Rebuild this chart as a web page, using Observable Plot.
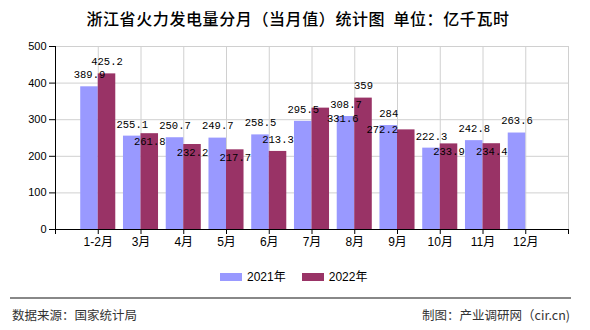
<!DOCTYPE html>
<html><head><meta charset="utf-8">
<script src="https://cdn.jsdelivr.net/npm/d3@7"></script>
<script src="https://cdn.jsdelivr.net/npm/@observablehq/plot@0.6"></script>
<style>
body{margin:0;width:590px;height:330px;position:relative;background:#fff;overflow:hidden;font-family:"Liberation Sans","Noto Sans CJK SC",sans-serif;color:#000}
#title{position:absolute;top:7px;left:3px;width:590px;text-align:center;font-size:16px;line-height:22px;font-family:"Noto Sans CJK SC",sans-serif;font-weight:500;word-spacing:4px;letter-spacing:0.6px}
#chart{position:absolute;top:36px;left:0}
#legend{position:absolute;top:269px;left:220px;font-size:12px;line-height:16px;display:flex;align-items:center}
#legend .sw{width:22px;height:8px;display:inline-block;margin-right:5px}
#legend .it{display:flex;align-items:center;margin-right:16px}
#sep{position:absolute;top:297px;left:10px;width:561px;border-top:2px solid #888}
#src{position:absolute;left:12px;top:306px;font-size:12.5px;color:#333;font-family:"Noto Sans CJK SC",sans-serif;line-height:18px}
#by{position:absolute;right:20px;top:306px;font-size:12.5px;color:#333;font-family:"Noto Sans CJK SC",sans-serif;line-height:18px}
</style></head>
<body>
<div id="title">浙江省火力发电量分月（当月值）统计图 单位：亿千瓦时</div>
<div id="chart"></div>
<div id="legend"></div>
<div id="sep"></div>
<div id="src">数据来源：国家统计局</div>
<div id="by">制图：产业调研网（cir.cn)</div>
<script>
const months = ["1-2月","3月","4月","5月","6月","7月","8月","9月","10月","11月","12月"];
const v2021 = [389.9,255.1,250.7,249.7,258.5,295.5,308.7,284,222.3,242.8,263.6];
const v2022 = [425.2,261.8,232.2,217.7,213.3,331.6,359,272.2,233.9,234.4,null];
const seriesNames = ["2021年","2022年"];
const seriesColors = ["#9999ff","#993366"];
const yTicks = [0,100,200,300,400,500];

const rows = months.map((m,i)=>({m, pos:i+1, a:v2021[i], b:v2022[i]}));
const rowsB = rows.filter(d=>d.b!=null);
const W = 0.41;
const lblFont = "Liberation Mono, DejaVu Sans Mono, monospace";

// layout of the plot (same numbers passed to Plot below)
const width = 590, height = 226, mL = 55, mR = 22, mT = 10, mB = 33;
const xDomain = [0,12], yDomain = [0,500];
const px = d3.scaleLinear(xDomain, [mL, width - mR]);
const py = d3.scaleLinear(yDomain, [height - mB, mT]);

// simple greedy label placement: 2021 labels above bars, 2022 labels try above/below/left/right
const charW = 6.3, boxH = 12, pad = 2;
const placed = rows.map(d => ({x: px(d.pos - W/2), y: py(d.a) - 12, w: String(d.a).length*charW + pad}));
const candidates = [[0,-12],[0,8],[-24,0],[22,10]];
const overlaps = (a,b) => Math.abs(a.x-b.x) < (a.w+b.w)/2 && Math.abs(a.y-b.y) < boxH;
rowsB.forEach(d => {
  const cx = px(d.pos + W/2), cy = py(d.b), w = String(d.b).length*charW + pad;
  let k = 0;
  for (; k < candidates.length; k++) {
    const box = {x: cx + candidates[k][0], y: cy + candidates[k][1], w};
    if (!placed.some(p => overlaps(p, box))) break;
  }
  if (k === candidates.length) k = 0;
  d.cand = k;
  placed.push({x: cx + candidates[k][0], y: cy + candidates[k][1], w});
});

const labelMarks = candidates.map((c,k) =>
  Plot.text(rowsB.filter(d=>d.cand===k), {x:d=>d.pos+W/2, y:"b", text:d=>String(d.b), dx:c[0], dy:c[1],
    fontSize:10.5, fontFamily:lblFont, fill:"#000"}));

const chart = Plot.plot({
  width, height, marginLeft:mL, marginRight:mR, marginTop:mT, marginBottom:mB,
  x:{type:"linear", domain:xDomain},
  y:{domain:yDomain},
  style:{fontFamily:"Liberation Sans, Noto Sans CJK SC, sans-serif", fontSize:"11px", color:"#000", background:"white"},
  marks:[
    Plot.gridY(yTicks.slice(1), {stroke:"#d0d0d0", strokeOpacity:1}),
    Plot.gridX(d3.range(1,13), {stroke:"#d0d0d0", strokeOpacity:1}),
    Plot.rect(rows, {x1:d=>d.pos-W, x2:d=>d.pos, y1:0, y2:"a", fill:seriesColors[0]}),
    Plot.rect(rowsB, {x1:d=>d.pos, x2:d=>d.pos+W, y1:0, y2:"b", fill:seriesColors[1]}),
    Plot.axisY(yTicks, {tickSize:6, tickPadding:3, fontSize:11, label:null, stroke:"#000"}),
    Plot.axisX(d3.range(0,13), {tickSize:5, tickPadding:3, fontSize:12, label:null, stroke:"#000",
      tickFormat: i => months[i-1] ?? ""}),
    Plot.ruleY([0], {stroke:"#000"}),
    Plot.ruleX([0], {stroke:"#000"}),
    Plot.text(rows, {x:d=>d.pos-W/2, y:"a", text:d=>String(d.a), dy:-12, fontSize:10.5, fontFamily:lblFont, fill:"#000"}),
    ...labelMarks
  ]
});
document.getElementById("chart").appendChild(chart);

const lg = document.getElementById("legend");
seriesNames.forEach((n,i)=>{
  const it = document.createElement("span"); it.className="it";
  const sw = document.createElement("span"); sw.className="sw"; sw.style.background=seriesColors[i];
  it.appendChild(sw); it.appendChild(document.createTextNode(n));
  lg.appendChild(it);
});
</script>
</body></html>
